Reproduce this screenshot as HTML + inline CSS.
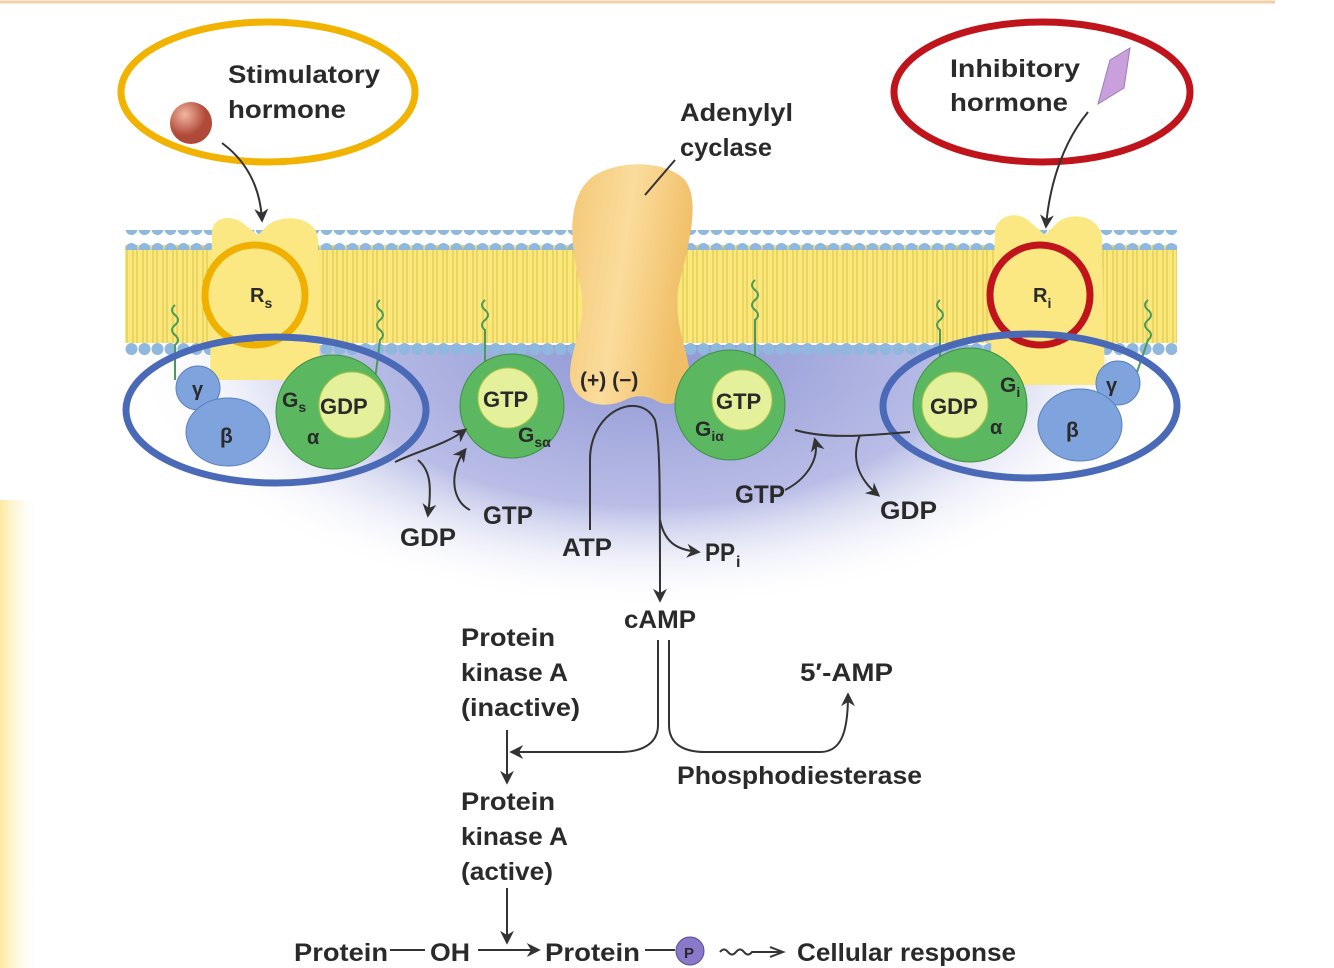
<!DOCTYPE html>
<html><head><meta charset="utf-8"><style>
html,body{margin:0;padding:0;background:#fff}
svg{display:block}
text{font-family:"Liberation Sans",sans-serif;font-weight:bold;fill:#2a2a2a}
</style></head><body>
<svg width="1334" height="968" viewBox="0 0 1334 968" xmlns="http://www.w3.org/2000/svg">
<defs>
<radialGradient id="pur" cx="650" cy="350" r="520" gradientUnits="userSpaceOnUse" gradientTransform="translate(650 350) scale(1 0.5) translate(-650 -350)">
<stop offset="0" stop-color="#8e96d4"/><stop offset="0.6" stop-color="#b9bde6"/><stop offset="1" stop-color="#ffffff" stop-opacity="0"/></radialGradient>
<linearGradient id="lside" x1="0" x2="1"><stop offset="0" stop-color="#fde9a0"/><stop offset="1" stop-color="#fff" stop-opacity="0"/></linearGradient>
<clipPath id="below"><rect x="0" y="345" width="1334" height="623"/></clipPath>
<pattern id="tails" x="0" y="0" width="10" height="10" patternUnits="userSpaceOnUse">
<rect width="10" height="10" fill="#fbe77a"/><line x1="3" y1="0" x2="3" y2="10" stroke="#d8c24a" stroke-width="1"/><line x1="7" y1="0" x2="7" y2="10" stroke="#d8c24a" stroke-width="1"/></pattern>
<pattern id="heads" x="125" y="0" width="13" height="20" patternUnits="userSpaceOnUse">
<circle cx="6.5" cy="9" r="6" fill="#8fb8de"/></pattern>
<radialGradient id="ball" cx="0.35" cy="0.3"><stop offset="0" stop-color="#f2b7a0"/><stop offset="1" stop-color="#b04a38"/></radialGradient>
<linearGradient id="ac" x1="0" x2="1" y1="0" y2="0.3"><stop offset="0" stop-color="#f3c775"/><stop offset="0.5" stop-color="#fbdc9c"/><stop offset="1" stop-color="#f0be66"/></linearGradient>
<marker id="ah" viewBox="0 0 10 10" refX="8" refY="5" markerWidth="7" markerHeight="7" orient="auto"><path d="M0,0 L10,5 L0,10 L3,5z" fill="#333"/></marker>
</defs>
<rect width="1334" height="968" fill="#fff"/>
<line x1="0" y1="2" x2="1275" y2="2" stroke="#f3cfa8" stroke-width="3"/>
<rect x="0" y="500" width="40" height="468" fill="url(#lside)"/>
<ellipse cx="650" cy="350" rx="560" ry="270" fill="url(#pur)" clip-path="url(#below)"/>
<!-- membrane -->
<rect x="125" y="245" width="1052" height="98" fill="url(#tails)"/>
<rect x="125" y="230" width="1052" height="20" fill="url(#heads)"/>
<rect x="125" y="337" width="1052" height="20" fill="url(#heads)"/>
<!-- adenylyl cyclase -->
<path d="M595,175 C620,160 665,160 685,180 C700,200 690,240 680,280 C670,320 690,350 690,380 C690,400 670,410 655,400 C645,395 635,395 625,400 C600,412 570,400 570,375 C570,345 590,320 580,285 C570,245 565,195 595,175z" fill="url(#ac)"/>
<text x="580" y="387" font-size="21">(+) (−)</text>
<line x1="675" y1="160" x2="645" y2="195" stroke="#333" stroke-width="2"/>
<text x="680" y="121" font-size="25" textLength="113" lengthAdjust="spacingAndGlyphs">Adenylyl</text>
<text x="680" y="156" font-size="25" textLength="92" lengthAdjust="spacingAndGlyphs">cyclase</text>
<!-- receptors -->
<path d="M212,230 C215,215 235,215 245,225 L258,235 L268,225 C285,212 318,218 318,240 L320,380 L210,380z" fill="#fbe882"/>
<circle cx="255" cy="295" r="50" fill="none" stroke="#f0b000" stroke-width="7"/>
<text x="250" y="302" font-size="20">R<tspan font-size="14" dy="6">s</tspan></text>
<path d="M995,230 C998,215 1018,210 1030,222 L1045,235 L1058,222 C1075,210 1102,218 1102,240 L1105,385 L990,385z" fill="#fbe882"/>
<circle cx="1040" cy="295" r="50" fill="none" stroke="#c0141c" stroke-width="7"/>
<text x="1033" y="302" font-size="20">R<tspan font-size="14" dy="6">i</tspan></text>
<!-- squiggles -->
<g fill="none" stroke="#4a9a5a" stroke-width="2">
<path d="M175,305 q-6,5 0,10 q6,5 0,10 q-6,5 0,10 q6,5 0,10 l0,35"/>
<path d="M380,300 q-6,5 0,10 q6,5 0,10 q-6,5 0,10 q6,5 0,10 l-5,40"/>
<path d="M485,300 q-6,5 0,10 q6,5 0,10 q-6,5 0,10 l0,40"/>
<path d="M755,280 q-6,5 0,10 q6,5 0,10 q-6,5 0,10 q6,5 0,10 l0,38"/>
<path d="M940,300 q-6,5 0,10 q6,5 0,10 q-6,5 0,10 l0,45"/>
<path d="M1148,300 q-6,5 0,10 q6,5 0,10 q-6,5 0,10 q6,5 0,10 l-12,35"/>
</g>
<!-- left complex -->
<circle cx="198" cy="388" r="22" fill="#7fa3dc" stroke="#5a80c0"/>
<ellipse cx="228" cy="432" rx="42" ry="34" fill="#7fa3dc" stroke="#5a80c0"/>
<circle cx="333" cy="412" r="57" fill="#5cb860" stroke="#3f9044"/>
<circle cx="352" cy="405" r="33" fill="#e4f09a" stroke="#a9c450"/>
<text x="192" y="396" font-size="20">γ</text>
<text x="220" y="443" font-size="21">β</text>
<text x="282" y="407" font-size="21">G<tspan font-size="14" dy="5">s</tspan></text>
<text x="320" y="414" font-size="22">GDP</text>
<text x="307" y="444" font-size="20">α</text>
<ellipse cx="276" cy="410" rx="150" ry="73" fill="none" stroke="#4a6ab8" stroke-width="7"/>
<!-- Gs alpha -->
<circle cx="512" cy="406" r="52" fill="#5cb860" stroke="#3f9044"/>
<circle cx="508" cy="398" r="30" fill="#e4f09a" stroke="#a9c450"/>
<text x="483" y="407" font-size="22">GTP</text>
<text x="518" y="442" font-size="21">G<tspan font-size="14" dy="5">sα</tspan></text>
<!-- Gi alpha -->
<circle cx="730" cy="405" r="55" fill="#5cb860" stroke="#3f9044"/>
<circle cx="742" cy="400" r="30" fill="#e4f09a" stroke="#a9c450"/>
<text x="716" y="409" font-size="22">GTP</text>
<text x="695" y="436" font-size="21">G<tspan font-size="14" dy="5">iα</tspan></text>
<!-- right complex -->
<circle cx="1118" cy="383" r="22" fill="#7fa3dc" stroke="#5a80c0"/>
<ellipse cx="1080" cy="425" rx="42" ry="36" fill="#7fa3dc" stroke="#5a80c0"/>
<circle cx="970" cy="405" r="57" fill="#5cb860" stroke="#3f9044"/>
<circle cx="955" cy="405" r="33" fill="#e4f09a" stroke="#a9c450"/>
<text x="1106" y="392" font-size="20">γ</text>
<text x="1066" y="437" font-size="21">β</text>
<text x="1000" y="392" font-size="21">G<tspan font-size="14" dy="5">i</tspan></text>
<text x="930" y="414" font-size="22">GDP</text>
<text x="990" y="434" font-size="20">α</text>
<ellipse cx="1030" cy="406" rx="147" ry="72" fill="none" stroke="#4a6ab8" stroke-width="7"/>
<!-- hormones -->
<ellipse cx="268" cy="92" rx="147" ry="70" fill="none" stroke="#f2b300" stroke-width="7"/>
<circle cx="191" cy="123" r="21" fill="url(#ball)"/>
<text x="228" y="83" font-size="25" textLength="152" lengthAdjust="spacingAndGlyphs">Stimulatory</text>
<text x="228" y="118" font-size="25" textLength="118" lengthAdjust="spacingAndGlyphs">hormone</text>
<path d="M222,143 C245,160 260,185 262,220" fill="none" stroke="#333" stroke-width="2" marker-end="url(#ah)"/>
<ellipse cx="1042" cy="92" rx="148" ry="70" fill="none" stroke="#c0141c" stroke-width="7"/>
<path d="M1110,60 L1130,48 L1124,88 L1098,104z" fill="#c9a0dc" stroke="#a07ab8"/>
<text x="950" y="77" font-size="25" textLength="130" lengthAdjust="spacingAndGlyphs">Inhibitory</text>
<text x="950" y="111" font-size="25" textLength="118" lengthAdjust="spacingAndGlyphs">hormone</text>
<path d="M1088,112 C1065,140 1050,180 1046,226" fill="none" stroke="#333" stroke-width="2" marker-end="url(#ah)"/>
<!-- cycles -->
<g fill="none" stroke="#333" stroke-width="2">
<path d="M395,462 C420,450 445,445 465,430" marker-end="url(#ah)"/>
<path d="M418,460 C430,470 432,485 428,515" marker-end="url(#ah)"/>
<path d="M470,510 C450,500 450,470 465,450" marker-end="url(#ah)"/>
<path d="M795,430 C830,440 870,435 910,432"/>
<path d="M785,490 C805,480 820,460 815,440" marker-end="url(#ah)"/>
<path d="M860,435 C850,460 860,480 878,495" marker-end="url(#ah)"/>
<path d="M590,530 L590,460 C590,410 640,390 655,420 C660,440 660,480 660,600" marker-end="url(#ah)"/>
<path d="M660,520 C665,545 680,550 698,552" marker-end="url(#ah)"/>
<path d="M658,640 L658,725 C658,745 640,752 620,752 L512,752" marker-end="url(#ah)"/>
<path d="M669,640 L669,725 C669,745 685,752 705,752 L820,752 C840,752 848,735 848,695" marker-end="url(#ah)"/>
<path d="M507,730 L507,782" marker-end="url(#ah)"/>
<path d="M507,888 L507,942" marker-end="url(#ah)"/>
<path d="M478,950 L538,950" marker-end="url(#ah)"/>
<path d="M390,950 L425,950"/>
<path d="M645,950 L675,950"/>
<path d="M720,952 q4,-5 8,0 q4,5 8,0 q4,-5 8,0 q4,5 8,0 l30,0" />
<path d="M770,947 L783,952 L770,957" stroke-width="2"/>
</g>
<text x="483" y="524" font-size="25" textLength="50" lengthAdjust="spacingAndGlyphs">GTP</text>
<text x="400" y="546" font-size="25" textLength="56" lengthAdjust="spacingAndGlyphs">GDP</text>
<text x="562" y="556" font-size="25" textLength="50" lengthAdjust="spacingAndGlyphs">ATP</text>
<text x="705" y="561" font-size="25" textLength="30" lengthAdjust="spacingAndGlyphs">PP</text><text x="736" y="567" font-size="16">i</text>
<text x="735" y="503" font-size="25" textLength="50" lengthAdjust="spacingAndGlyphs">GTP</text>
<text x="880" y="519" font-size="25" textLength="57" lengthAdjust="spacingAndGlyphs">GDP</text>
<text x="624" y="628" font-size="25" textLength="72" lengthAdjust="spacingAndGlyphs">cAMP</text>
<g fill="#555">
<text x="461" y="646" font-size="25" textLength="94" lengthAdjust="spacingAndGlyphs" fill="#555">Protein</text>
<text x="461" y="681" font-size="25" textLength="107" lengthAdjust="spacingAndGlyphs" fill="#555">kinase A</text>
<text x="461" y="716" font-size="25" textLength="119" lengthAdjust="spacingAndGlyphs" fill="#555">(inactive)</text>
<text x="677" y="784" font-size="25" textLength="245" lengthAdjust="spacingAndGlyphs" fill="#555">Phosphodiesterase</text>
<text x="461" y="810" font-size="25" textLength="94" lengthAdjust="spacingAndGlyphs" fill="#555">Protein</text>
<text x="461" y="845" font-size="25" textLength="107" lengthAdjust="spacingAndGlyphs" fill="#555">kinase A</text>
<text x="461" y="880" font-size="25" textLength="92" lengthAdjust="spacingAndGlyphs" fill="#555">(active)</text>
<text x="294" y="961" font-size="25" textLength="94" lengthAdjust="spacingAndGlyphs" fill="#555">Protein</text>
<text x="430" y="961" font-size="25" textLength="40" lengthAdjust="spacingAndGlyphs" fill="#555">OH</text>
<text x="545" y="961" font-size="25" textLength="95" lengthAdjust="spacingAndGlyphs" fill="#555">Protein</text>
<text x="797" y="961" font-size="25" textLength="219" lengthAdjust="spacingAndGlyphs" fill="#555">Cellular response</text>
</g>
<text x="800" y="681" font-size="25" textLength="93" lengthAdjust="spacingAndGlyphs">5′-AMP</text>
<circle cx="690" cy="951" r="14" fill="#8a78c8" stroke="#5a4a98"/>
<text x="684" y="958" font-size="15" fill="#fff">P</text>
</svg>
</body></html>
